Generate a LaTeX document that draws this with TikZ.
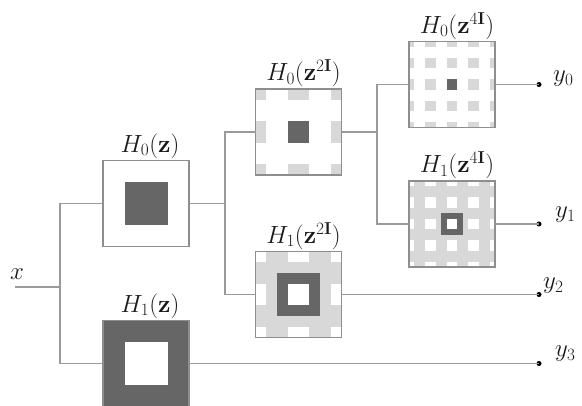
\documentclass[tikz,border=0pt]{standalone}
\definecolor{wire}{HTML}{9A9A9A}
\definecolor{frame}{HTML}{8E8E8E}
\definecolor{passgray}{HTML}{666666}
\definecolor{imagegray}{HTML}{D8D8D8}
\definecolor{ink}{HTML}{1A1A1A}

% passband of a low-pass filter H0(z^k): dark square at the centre,
% lighter image squares on the grid of period #2 (#1 = grid half count)
\newcommand\lowpassgrid[2]{%
  \begin{scope}[shift={(path picture bounding box.center)}]
    \foreach \i in {-#1,...,#1}{\foreach \j in {-#1,...,#1}{%
      \fill[imagegray] ({\i*#2-#2/4},{\j*#2-#2/4}) rectangle ({\i*#2+#2/4},{\j*#2+#2/4});}}
    \fill[passgray] ({-#2/4},{-#2/4}) rectangle ({#2/4},{#2/4});
  \end{scope}}
% complementary high-pass filter H1(z^k)
\newcommand\highpassgrid[2]{%
  \begin{scope}[shift={(path picture bounding box.center)}]
    \foreach \i in {-#1,...,#1}{\foreach \j in {-#1,...,#1}{%
      \fill[white] ({\i*#2-#2/4},{\j*#2-#2/4}) rectangle ({\i*#2+#2/4},{\j*#2+#2/4});}}
    \fill[passgray] ({-#2/2},{-#2/2}) rectangle ({#2/2},{#2/2});
    \fill[white] ({-#2/4},{-#2/4}) rectangle ({#2/4},{#2/4});
  \end{scope}}

\tikzset{
  filt/.style={draw=frame, line width=1.3pt, minimum size=86pt, inner sep=0pt, outer sep=0pt},
  lowpass/.style 2 args={filt, fill=white, path picture={\lowpassgrid{#1}{#2}}},
  highpass/.style 2 args={filt, fill=imagegray, path picture={\highpassgrid{#1}{#2}}},
  tag/.style={anchor=south, inner sep=2pt, xshift=5pt, text=ink, font=\fontsize{24}{29}\selectfont},
  outlab/.style={anchor=west, inner sep=0pt, text=ink, font=\fontsize{24}{29}\selectfont},
  wirestyle/.style={draw=wire, line width=1.3pt},
  tap/.style={circle, fill=black, minimum size=5pt, inner sep=0pt},
}

\begin{document}
\begin{tikzpicture}[x=1pt, y=-1pt]
  \useasboundingbox (0,0) rectangle (582,406);

  % filter bank boxes
  \node[lowpass={0}{86}]    (h0)   at (146,203.5) {};
  \node[highpass={0}{86}]   (h1)   at (146,363.5) {};
  \node[lowpass={1}{43}]    (h00)  at (298.5,132) {};
  \node[highpass={1}{43}]   (h01)  at (298.5,294.5) {};
  \node[lowpass={2}{21.5}]  (h000) at (452,84.5) {};
  \node[highpass={2}{21.5}] (h001) at (452,224) {};

  % filter names
  \node[tag, xshift=-1pt] at (h0.north) {$H_0(\mathbf{z})$};
  \node[tag, xshift=-1pt] at (h1.north) {$H_1(\mathbf{z})$};
  \node[tag] at (h00.north)  {$H_0(\mathbf{z}^{2\mathbf{I}})$};
  \node[tag] at (h01.north)  {$H_1(\mathbf{z}^{2\mathbf{I}})$};
  \node[tag] at (h000.north) {$H_0(\mathbf{z}^{4\mathbf{I}})$};
  \node[tag] at (h001.north) {$H_1(\mathbf{z}^{4\mathbf{I}})$};

  % input and branch points
  \coordinate (xin) at (15,287);
  \coordinate (s1) at (60,287);
  \coordinate (s2) at (225,203.5);
  \coordinate (s3) at (377,132);
  \node[outlab, anchor=base west] at (10,280) {$x$};

  % outputs
  \node[tap] (o0) at (539,84.5) {};
  \node[tap] (o1) at (539,224) {};
  \node[tap] (o2) at (539,294.5) {};
  \node[tap] (o3) at (539,363.5) {};
  \node[outlab] at (553,79)  {$y_0$};
  \node[outlab] at (555,215) {$y_1$};
  \node[outlab] at (543,286) {$y_2$};
  \node[outlab] at (555,354) {$y_3$};

  % connections
  \draw[wirestyle] (xin) -- (s1);
  \draw[wirestyle] (s1) |- (h0.west);
  \draw[wirestyle] (s1) |- (h1.west);
  \draw[wirestyle] (h0.east) -- (s2);
  \draw[wirestyle] (s2) |- (h00.west);
  \draw[wirestyle] (s2) |- (h01.west);
  \draw[wirestyle] (h00.east) -- (s3);
  \draw[wirestyle] (s3) |- (h000.west);
  \draw[wirestyle] (s3) |- (h001.west);
  \draw[wirestyle] (h000.east) -- (o0.center);
  \draw[wirestyle] (h001.east) -- (o1.center);
  \draw[wirestyle] (h01.east) -- (o2.center);
  \draw[wirestyle] (h1.east) -- (o3.center);
\end{tikzpicture}
\end{document}
